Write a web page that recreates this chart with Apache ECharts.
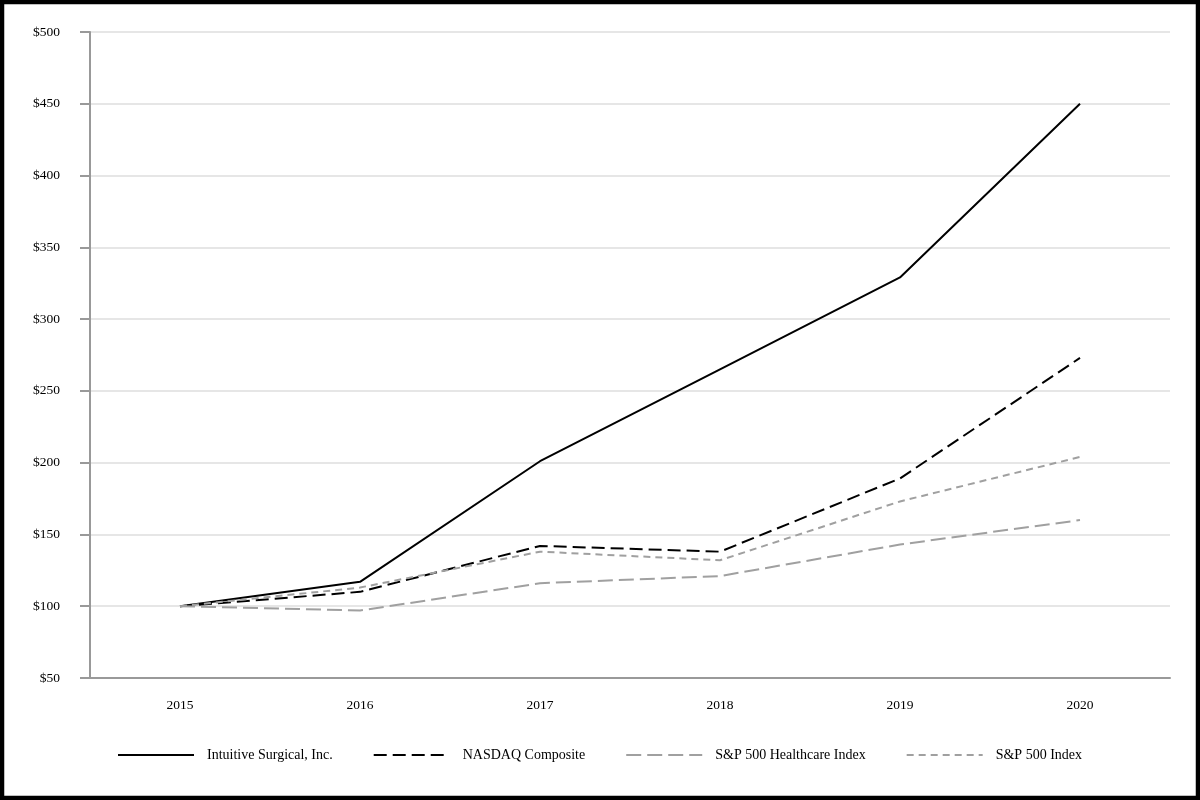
<!DOCTYPE html>
<html>
<head>
<meta charset="utf-8">
<script src="https://cdn.jsdelivr.net/npm/echarts@6/dist/echarts.min.js"></script>
<style>
html,body{margin:0;padding:0;background:#fff;}
#chart{width:1200px;height:800px;}
</style>
</head>
<body>
<div id="chart"></div>
<script>
const years = ['2015','2016','2017','2018','2019','2020'];
const intuitive = [100, 117, 201, 265, 329, 450];
const nasdaq = [100, 110, 142, 138, 189, 273];
const healthcare = [100, 97, 116, 121, 143, 160];
const sp500 = [100, 113, 138, 132, 173, 204];
const yTicks = {min: 50, max: 500, interval: 50};

const font = 'Liberation Serif, Times New Roman, serif';
const chart = echarts.init(document.getElementById('chart'));
chart.setOption({
  backgroundColor: '#fff',
  animation: false,
  textStyle: {fontFamily: font},
  graphic: [{
    type: 'rect', silent: true, z: 100,
    shape: {x: 2, y: 2, width: 1196, height: 796},
    style: {fill: 'none', stroke: '#000', lineWidth: 4.5}
  }],
  grid: {left: 90, right: 30, top: 32, bottom: 122, containLabel: false},
  legend: {
    bottom: 38, left: 117, padding: 0,
    itemWidth: 76, itemHeight: 12, itemGap: 40,
    itemStyle: {opacity: 0},
    textStyle: {fontFamily: font, fontSize: 14, color: '#000', padding: [0, 0, 0, 8]},
    data: ['Intuitive Surgical, Inc.', 'NASDAQ Composite', 'S&P 500 Healthcare Index', 'S&P 500 Index']
  },
  xAxis: {
    type: 'category', data: years, boundaryGap: true,
    axisLine: {lineStyle: {color: '#999', width: 2}},
    axisTick: {alignWithLabel: true, length: 9, lineStyle: {color: '#999', width: 2}},
    axisLabel: {color: '#000', fontFamily: font, fontSize: 13.5, margin: 20},
    splitLine: {show: false}
  },
  yAxis: {
    type: 'value', min: yTicks.min, max: yTicks.max, interval: yTicks.interval,
    axisLine: {show: true, lineStyle: {color: '#999', width: 2}},
    axisTick: {show: true, length: 10, lineStyle: {color: '#999', width: 2}},
    axisLabel: {color: '#000', fontFamily: font, fontSize: 13.5, margin: 30, formatter: v => '$' + v},
    splitLine: {lineStyle: {color: '#e6e6e6', width: 2}}
  },
  series: [
    {name: 'Intuitive Surgical, Inc.', type: 'line', data: intuitive, symbol: 'none',
     lineStyle: {color: '#000', width: 2}, itemStyle: {color: '#000'}},
    {name: 'NASDAQ Composite', type: 'line', data: nasdaq, symbol: 'none',
     lineStyle: {color: '#000', width: 2, type: [13, 6]}, itemStyle: {color: '#000'}},
    {name: 'S&P 500 Healthcare Index', type: 'line', data: healthcare, symbol: 'none',
     lineStyle: {color: '#a0a0a0', width: 2, type: [15, 6]}, itemStyle: {color: '#a0a0a0'}},
    {name: 'S&P 500 Index', type: 'line', data: sp500, symbol: 'none',
     lineStyle: {color: '#a0a0a0', width: 2, type: [7, 5]}, itemStyle: {color: '#a0a0a0'}}
  ]
});
</script>
</body>
</html>
